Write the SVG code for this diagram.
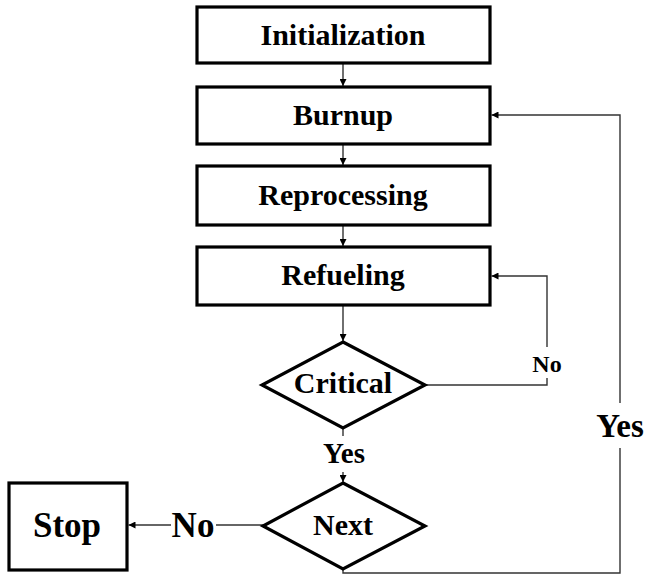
<svg xmlns="http://www.w3.org/2000/svg" width="649" height="581" viewBox="0 0 649 581">
<style>
.box{fill:#fff;stroke:#000;stroke-width:3.2}
.lbl{font-family:"Liberation Serif","Times New Roman",serif;font-weight:bold;fill:#000;text-anchor:middle}
.con{fill:none;stroke:#333;stroke-width:1.4}
</style>
<defs>
<marker id="ah" viewBox="0 0 10 10" refX="10" refY="5" markerWidth="7" markerHeight="7" markerUnits="userSpaceOnUse" orient="auto">
<path d="M0,0 L10,5 L0,10 z" fill="#000"/>
</marker>
</defs>
<rect width="649" height="581" fill="#fff"/>
<g id="connectors">
<line class="con" x1="343" y1="63" x2="343" y2="86" marker-end="url(#ah)"/>
<line class="con" x1="343" y1="144" x2="343" y2="165" marker-end="url(#ah)"/>
<line class="con" x1="343" y1="225" x2="343" y2="246" marker-end="url(#ah)"/>
<line class="con" x1="343" y1="305" x2="343" y2="341" marker-end="url(#ah)"/>
<polyline class="con" points="425,385 547,385 547,378"/>
<polyline class="con" points="547,347 547,276 491.5,276" marker-end="url(#ah)"/>
<line class="con" x1="343" y1="428" x2="343" y2="436"/>
<line class="con" x1="343" y1="472" x2="343" y2="482" marker-end="url(#ah)"/>
<line class="con" x1="263" y1="525" x2="216" y2="525"/>
<line class="con" x1="171" y1="525" x2="128.5" y2="525" marker-end="url(#ah)"/>
<polyline class="con" points="343,569 343,573 620,573 620,448"/>
<polyline class="con" points="620,403 620,115 491.5,115" marker-end="url(#ah)"/>
</g>
<g id="initialization">
<rect class="box" x="197" y="7" width="293" height="56"/>
<text class="lbl" x="343" y="45" font-size="30">Initialization</text>
</g>
<g id="burnup">
<rect class="box" x="197" y="87" width="293" height="57"/>
<text class="lbl" x="343" y="125" font-size="30">Burnup</text>
</g>
<g id="reprocessing">
<rect class="box" x="197" y="166" width="293" height="59"/>
<text class="lbl" x="343" y="205" font-size="30">Reprocessing</text>
</g>
<g id="refueling">
<rect class="box" x="197" y="247" width="293" height="58"/>
<text class="lbl" x="343" y="285" font-size="30">Refueling</text>
</g>
<g id="critical">
<polygon class="box" points="343,342 425,385 343,428 262,385"/>
<text class="lbl" x="343" y="393" font-size="30">Critical</text>
</g>
<g id="next">
<polygon class="box" points="343,483 425,526 343,569 263,526"/>
<text class="lbl" x="343" y="535" font-size="30">Next</text>
</g>
<g id="stop">
<rect class="box" x="9" y="483" width="118" height="87"/>
<text class="lbl" x="67" y="537" font-size="35">Stop</text>
</g>
<g id="labels">
<text class="lbl" x="547" y="372" font-size="24">No</text>
<text class="lbl" x="620" y="437" font-size="33">Yes</text>
<text class="lbl" x="344" y="463" font-size="29">Yes</text>
<text class="lbl" x="193" y="537" font-size="35">No</text>
</g>
</svg>
